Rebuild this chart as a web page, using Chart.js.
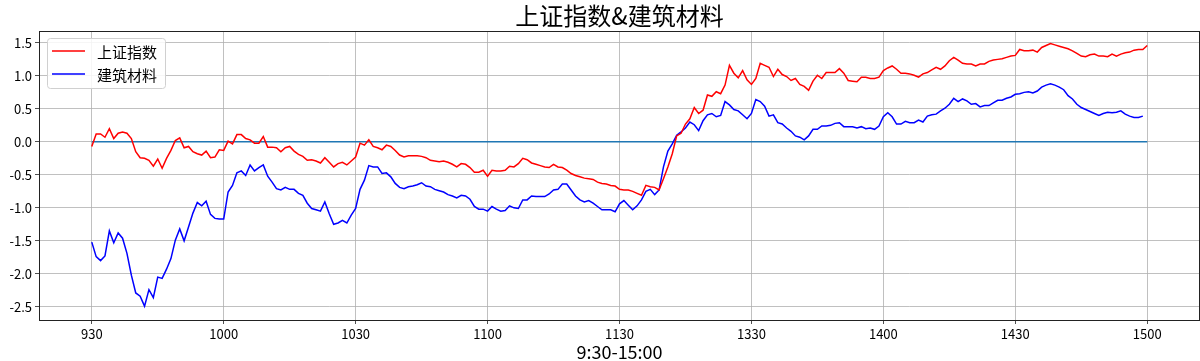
<!DOCTYPE html>
<html>
<head>
<meta charset="utf-8">
<script src="https://cdn.jsdelivr.net/npm/chart.js@4.4.1/dist/chart.umd.min.js"></script>
<style>
  html, body { margin: 0; padding: 0; background: #fff; }
  #wrap { width: 1200px; height: 361px; }
</style>
</head>
<body>
<div id="wrap"><canvas id="c" width="1200" height="361"></canvas></div>
<script>
// time categories: 9:30-11:30 and 13:01-15:00, one per minute
const times = [];
for (let m = 9 * 60 + 30; m <= 11 * 60 + 30; m++) times.push(String(Math.floor(m / 60)) + String(m % 60).padStart(2, '0'));
for (let m = 13 * 60 + 1; m <= 15 * 60; m++) times.push(String(Math.floor(m / 60)) + String(m % 60).padStart(2, '0'));

const xTickIdx = [0, 30, 60, 90, 120, 150, 180, 210, 240];
const yTicks = [-2.5, -2.0, -1.5, -1.0, -0.5, 0.0, 0.5, 1.0, 1.5];

// 上证指数
const szIndex = [
  -0.07, 0.12, 0.12, 0.07, 0.20, 0.05, 0.13, 0.15, 0.13, 0.05,
  -0.15, -0.24, -0.25, -0.28, -0.37, -0.26, -0.40, -0.25, -0.13, 0.02,
  0.06, -0.09, -0.07, -0.15, -0.18, -0.20, -0.14, -0.24, -0.23, -0.12,
  -0.13, 0.01, -0.03, 0.11, 0.11, 0.05, 0.03, -0.02, -0.02, 0.08,
  -0.08, -0.08, -0.09, -0.15, -0.09, -0.07, -0.14, -0.19, -0.22, -0.28,
  -0.27, -0.29, -0.32, -0.24, -0.31, -0.38, -0.33, -0.31, -0.35, -0.29,
  -0.23, -0.02, -0.05, 0.03, -0.07, -0.09, -0.12, -0.05, -0.07, -0.13,
  -0.20, -0.23, -0.21, -0.21, -0.21, -0.22, -0.24, -0.28, -0.29, -0.30,
  -0.29, -0.31, -0.34, -0.38, -0.33, -0.34, -0.39, -0.46, -0.46, -0.43,
  -0.52, -0.43, -0.44, -0.44, -0.43, -0.37, -0.38, -0.33, -0.25, -0.27,
  -0.32, -0.34, -0.36, -0.38, -0.39, -0.34, -0.38, -0.39, -0.43, -0.48,
  -0.51, -0.53, -0.55, -0.56, -0.57, -0.61, -0.63, -0.64, -0.66, -0.67,
  -0.72, -0.73, -0.73, -0.75, -0.78, -0.81, -0.66, -0.68, -0.69, -0.73,
  -0.56, -0.38, -0.18, 0.09, 0.13, 0.27, 0.35, 0.52, 0.43, 0.48,
  0.71, 0.69, 0.76, 0.73, 0.86, 1.16, 1.04, 0.97, 1.08, 0.94,
  0.87, 0.96, 1.19, 1.16, 1.13, 0.99, 1.10, 1.02, 0.99, 0.93,
  0.96, 0.87, 0.84, 0.78, 0.92, 1.01, 0.96, 1.05, 1.05, 1.05,
  1.11, 1.04, 0.93, 0.92, 0.91, 0.98, 0.98, 0.96, 0.96, 0.98,
  1.08, 1.12, 1.15, 1.10, 1.04, 1.04, 1.03, 1.01, 0.98, 1.03,
  1.05, 1.09, 1.13, 1.10, 1.15, 1.23, 1.28, 1.24, 1.19, 1.18,
  1.18, 1.15, 1.18, 1.18, 1.22, 1.24, 1.25, 1.26, 1.28, 1.30,
  1.31, 1.40, 1.38, 1.38, 1.39, 1.36, 1.43, 1.46, 1.49, 1.47,
  1.45, 1.43, 1.41, 1.38, 1.34, 1.30, 1.29, 1.32, 1.33, 1.30,
  1.30, 1.29, 1.33, 1.30, 1.33, 1.35, 1.36, 1.39, 1.40, 1.40,
  1.46
];

// 建筑材料
const buildMat = [
  -1.52, -1.74, -1.80, -1.73, -1.35, -1.53, -1.38, -1.46, -1.69, -2.02,
  -2.29, -2.34, -2.49, -2.24, -2.36, -2.05, -2.07, -1.93, -1.77, -1.49,
  -1.32, -1.50, -1.29, -1.08, -0.92, -0.97, -0.90, -1.10, -1.16, -1.17,
  -1.17, -0.76, -0.66, -0.47, -0.44, -0.51, -0.35, -0.44, -0.39, -0.35,
  -0.52, -0.61, -0.71, -0.73, -0.69, -0.72, -0.72, -0.78, -0.81, -0.93,
  -1.01, -1.03, -1.05, -0.91, -1.09, -1.25, -1.23, -1.19, -1.23, -1.11,
  -1.01, -0.72, -0.58, -0.36, -0.38, -0.38, -0.48, -0.47, -0.53, -0.63,
  -0.69, -0.71, -0.68, -0.67, -0.65, -0.62, -0.67, -0.68, -0.72, -0.74,
  -0.76, -0.80, -0.82, -0.85, -0.81, -0.82, -0.87, -0.98, -1.02, -1.02,
  -1.05, -0.98, -1.02, -1.05, -1.04, -0.97, -1.00, -1.01, -0.88, -0.88,
  -0.82, -0.83, -0.83, -0.83, -0.79, -0.73, -0.72, -0.64, -0.64, -0.73,
  -0.82, -0.88, -0.91, -0.89, -0.93, -0.98, -1.03, -1.03, -1.03, -1.06,
  -0.94, -0.89, -0.96, -1.03, -0.97, -0.88, -0.75, -0.72, -0.80, -0.73,
  -0.38, -0.14, -0.03, 0.10, 0.15, 0.21, 0.30, 0.26, 0.17, 0.32,
  0.41, 0.43, 0.38, 0.40, 0.61, 0.56, 0.49, 0.47, 0.41, 0.35,
  0.43, 0.64, 0.61, 0.54, 0.39, 0.41, 0.29, 0.27, 0.21, 0.16,
  0.09, 0.07, 0.03, 0.09, 0.19, 0.19, 0.24, 0.24, 0.25, 0.28,
  0.29, 0.23, 0.23, 0.23, 0.21, 0.23, 0.20, 0.21, 0.19, 0.24,
  0.38, 0.44, 0.38, 0.27, 0.27, 0.31, 0.29, 0.29, 0.33, 0.30,
  0.39, 0.41, 0.42, 0.47, 0.51, 0.57, 0.66, 0.61, 0.65, 0.62,
  0.57, 0.58, 0.53, 0.55, 0.55, 0.59, 0.63, 0.63, 0.66, 0.68,
  0.72, 0.73, 0.75, 0.76, 0.74, 0.77, 0.83, 0.86, 0.88, 0.86,
  0.83, 0.79, 0.70, 0.65, 0.57, 0.52, 0.49, 0.46, 0.43, 0.40,
  0.43, 0.45, 0.44, 0.45, 0.47, 0.42, 0.39, 0.37, 0.37, 0.39,
  null
];

const seriesNames = ['上证指数', '建筑材料'];
const FONT = "'Noto Sans CJK SC', 'DejaVu Sans', sans-serif";

const toXY = arr => arr.map((v, i) => ({ x: i, y: v }));

// title, x label, legend and frame drawn like matplotlib
const decor = {
  id: 'decor',
  afterDraw(chart) {
    const { ctx, chartArea: a } = chart;
    ctx.save();
    ctx.strokeStyle = '#222';
    ctx.lineWidth = 1;
    ctx.strokeRect(a.left + 0.5, a.top + 0.5, a.right - a.left - 1, a.bottom - a.top);

    const cx = (a.left + a.right) / 2;
    ctx.fillStyle = '#000';
    ctx.textAlign = 'center';
    ctx.textBaseline = 'middle';
    ctx.font = '24px ' + FONT;
    ctx.fillText('上证指数&建筑材料', cx, 16);
    ctx.font = '18px ' + FONT;
    ctx.fillText('9:30-15:00', cx, 352);

    // legend
    const lx = 47, ly = 38, lw = 118, lh = 50;
    ctx.fillStyle = 'rgba(255,255,255,0.85)';
    ctx.strokeStyle = '#d0d0d0';
    ctx.beginPath();
    ctx.roundRect(lx + 0.5, ly + 0.5, lw, lh, 3);
    ctx.fill();
    ctx.stroke();
    const cols = ['#ff0000', '#0000ff'];
    ctx.font = '15px ' + FONT;
    ctx.textAlign = 'left';
    seriesNames.forEach((n, k) => {
      const y = 51 + k * 23;
      ctx.strokeStyle = cols[k];
      ctx.lineWidth = 1.5;
      ctx.beginPath();
      ctx.moveTo(52, y);
      ctx.lineTo(85, y);
      ctx.stroke();
      ctx.fillStyle = '#000';
      ctx.fillText(n, 97, y + 1);
    });
    ctx.restore();
  }
};

new Chart(document.getElementById('c'), {
  type: 'line',
  data: {
    datasets: [
      { label: seriesNames[0], data: toXY(szIndex), borderColor: '#ff0000', borderWidth: 1.5, pointRadius: 0, tension: 0, order: 1 },
      { label: seriesNames[1], data: toXY(buildMat), borderColor: '#0000ff', borderWidth: 1.5, pointRadius: 0, tension: 0, order: 2 },
      { label: 'zero', data: toXY(times.map(() => 0)), borderColor: '#1f77b4', borderWidth: 1.5, pointRadius: 0, order: 3 }
    ]
  },
  options: {
    responsive: false,
    animation: false,
    events: [],
    layout: { padding: { top: 31, right: 0, left: 0, bottom: 0 } },
    plugins: { legend: { display: false }, title: { display: false }, tooltip: { enabled: false } },
    scales: {
      x: {
        type: 'linear',
        min: -12,
        max: 252,
        afterBuildTicks: s => { s.ticks = xTickIdx.map(v => ({ value: v })); },
        afterFit: s => { s.height = 41; },
        grid: { color: '#b0b0b0', lineWidth: 0.8, drawTicks: true, tickLength: 4, tickColor: '#222' },
        border: { display: false },
        ticks: {
          color: '#000', padding: 2, maxRotation: 0, autoSkip: false,
          font: { family: FONT, size: 13 },
          callback: v => times[v]
        }
      },
      y: {
        min: -2.70,
        max: 1.68,
        afterBuildTicks: s => { s.ticks = yTicks.map(v => ({ value: v })); },
        afterFit: s => { s.width = 39; },
        grid: { color: '#b0b0b0', lineWidth: 0.8, drawTicks: true, tickLength: 4, tickColor: '#222' },
        border: { display: false },
        ticks: {
          color: '#000', padding: 3,
          font: { family: FONT, size: 13 },
          callback: v => v.toFixed(1)
        }
      }
    }
  },
  plugins: [decor]
});
</script>
</body>
</html>
